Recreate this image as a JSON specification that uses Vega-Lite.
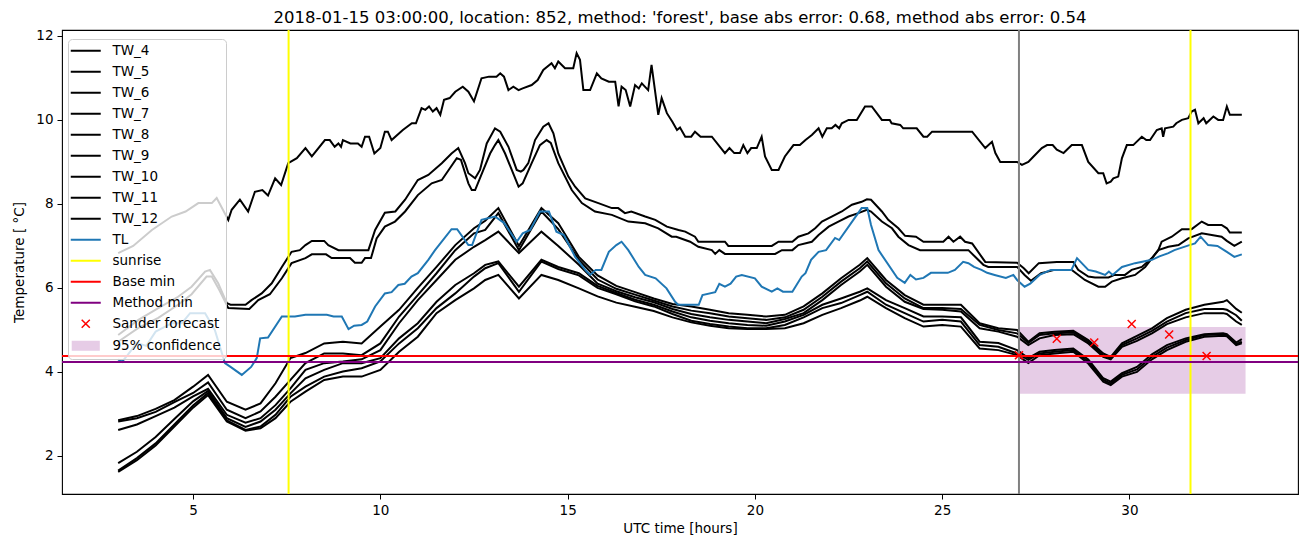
{
"$schema": "https://vega.github.io/schema/vega-lite/v6.json",
"width": 1236, "height": 464,
"autosize": {"type": "none"},
"padding": {"left": 62, "top": 30, "right": 12, "bottom": 53},
"background": "white",
"title": {"text": "2018-01-15 03:00:00, location: 852, method: 'forest', base abs error: 0.68, method abs error: 0.54", "font": "DejaVu Sans", "fontSize": 16.5, "fontWeight": "normal", "color": "black", "offset": 2, "anchor": "middle"},
"config": {
 "view": {"stroke": "black", "strokeWidth": 1.1},
 "axis": {"domain": false, "grid": false, "ticks": true, "tickColor": "black", "tickSize": 5, "tickWidth": 1, "labelFont": "DejaVu Sans", "labelFontSize": 13.5, "labelColor": "black", "labelPadding": 4, "titleFont": "DejaVu Sans", "titleFontSize": 13.5, "titleFontWeight": "normal", "titleColor": "black"},
 "axisX": {"titlePadding": 5},
 "axisY": {"titlePadding": 9}
},
"datasets": {
"tw": [
{"s":"TW_4","h":3.0,"t":6.83},{"s":"TW_4","h":3.4,"t":7.0},{"s":"TW_4","h":3.9,"t":7.38},{"s":"TW_4","h":4.43,"t":7.7},{"s":"TW_4","h":4.8,"t":7.82},{"s":"TW_4","h":5.14,"t":8.02},{"s":"TW_4","h":5.5,"t":8.02},{"s":"TW_4","h":5.63,"t":8.14},{"s":"TW_4","h":5.94,"t":7.62},{"s":"TW_4","h":6.03,"t":7.86},{"s":"TW_4","h":6.25,"t":8.1},{"s":"TW_4","h":6.47,"t":7.82},{"s":"TW_4","h":6.65,"t":8.29},{"s":"TW_4","h":6.85,"t":8.33},{"s":"TW_4","h":7.0,"t":8.2},{"s":"TW_4","h":7.19,"t":8.61},{"s":"TW_4","h":7.35,"t":8.45},{"s":"TW_4","h":7.54,"t":8.97},{"s":"TW_4","h":7.77,"t":9.09},{"s":"TW_4","h":8.0,"t":9.33},{"s":"TW_4","h":8.17,"t":9.13},{"s":"TW_4","h":8.52,"t":9.52},{"s":"TW_4","h":8.65,"t":9.52},{"s":"TW_4","h":8.78,"t":9.36},{"s":"TW_4","h":8.88,"t":9.44},{"s":"TW_4","h":8.95,"t":9.36},{"s":"TW_4","h":9.0,"t":9.52},{"s":"TW_4","h":9.2,"t":9.44},{"s":"TW_4","h":9.4,"t":9.44},{"s":"TW_4","h":9.5,"t":9.36},{"s":"TW_4","h":9.59,"t":9.6},{"s":"TW_4","h":9.7,"t":9.6},{"s":"TW_4","h":9.84,"t":9.2},{"s":"TW_4","h":10.0,"t":9.33},{"s":"TW_4","h":10.12,"t":9.72},{"s":"TW_4","h":10.2,"t":9.72},{"s":"TW_4","h":10.3,"t":9.52},{"s":"TW_4","h":10.6,"t":9.76},{"s":"TW_4","h":10.84,"t":9.92},{"s":"TW_4","h":10.95,"t":9.92},{"s":"TW_4","h":11.1,"t":10.28},{"s":"TW_4","h":11.2,"t":10.24},{"s":"TW_4","h":11.3,"t":10.32},{"s":"TW_4","h":11.4,"t":10.2},{"s":"TW_4","h":11.5,"t":10.28},{"s":"TW_4","h":11.6,"t":10.12},{"s":"TW_4","h":11.7,"t":10.48},{"s":"TW_4","h":11.85,"t":10.52},{"s":"TW_4","h":12.0,"t":10.67},{"s":"TW_4","h":12.2,"t":10.79},{"s":"TW_4","h":12.35,"t":10.67},{"s":"TW_4","h":12.5,"t":10.44},{"s":"TW_4","h":12.7,"t":10.99},{"s":"TW_4","h":12.9,"t":11.03},{"s":"TW_4","h":13.1,"t":11.03},{"s":"TW_4","h":13.2,"t":11.11},{"s":"TW_4","h":13.3,"t":11.03},{"s":"TW_4","h":13.42,"t":10.71},{"s":"TW_4","h":13.55,"t":10.79},{"s":"TW_4","h":13.69,"t":10.71},{"s":"TW_4","h":13.8,"t":10.75},{"s":"TW_4","h":14.04,"t":10.83},{"s":"TW_4","h":14.2,"t":10.95},{"s":"TW_4","h":14.35,"t":11.19},{"s":"TW_4","h":14.57,"t":11.35},{"s":"TW_4","h":14.66,"t":11.23},{"s":"TW_4","h":14.75,"t":11.39},{"s":"TW_4","h":14.93,"t":11.23},{"s":"TW_4","h":15.15,"t":11.23},{"s":"TW_4","h":15.24,"t":11.59},{"s":"TW_4","h":15.33,"t":11.43},{"s":"TW_4","h":15.42,"t":10.71},{"s":"TW_4","h":15.6,"t":10.71},{"s":"TW_4","h":15.78,"t":11.11},{"s":"TW_4","h":15.9,"t":10.99},{"s":"TW_4","h":16.1,"t":10.91},{"s":"TW_4","h":16.27,"t":10.91},{"s":"TW_4","h":16.36,"t":10.32},{"s":"TW_4","h":16.44,"t":10.79},{"s":"TW_4","h":16.55,"t":10.71},{"s":"TW_4","h":16.67,"t":10.32},{"s":"TW_4","h":16.8,"t":10.83},{"s":"TW_4","h":16.9,"t":10.75},{"s":"TW_4","h":16.98,"t":10.87},{"s":"TW_4","h":17.15,"t":10.71},{"s":"TW_4","h":17.24,"t":11.31},{"s":"TW_4","h":17.42,"t":10.12},{"s":"TW_4","h":17.51,"t":10.52},{"s":"TW_4","h":17.65,"t":10.16},{"s":"TW_4","h":17.8,"t":9.95},{"s":"TW_4","h":17.92,"t":9.76},{"s":"TW_4","h":18.0,"t":9.82},{"s":"TW_4","h":18.14,"t":9.6},{"s":"TW_4","h":18.3,"t":9.6},{"s":"TW_4","h":18.4,"t":9.72},{"s":"TW_4","h":18.55,"t":9.6},{"s":"TW_4","h":18.85,"t":9.6},{"s":"TW_4","h":19.2,"t":9.21},{"s":"TW_4","h":19.32,"t":9.33},{"s":"TW_4","h":19.45,"t":9.21},{"s":"TW_4","h":19.6,"t":9.21},{"s":"TW_4","h":19.69,"t":9.4},{"s":"TW_4","h":19.8,"t":9.21},{"s":"TW_4","h":19.9,"t":9.33},{"s":"TW_4","h":20.05,"t":9.33},{"s":"TW_4","h":20.18,"t":9.6},{"s":"TW_4","h":20.27,"t":9.13},{"s":"TW_4","h":20.45,"t":8.81},{"s":"TW_4","h":20.63,"t":8.81},{"s":"TW_4","h":20.8,"t":9.13},{"s":"TW_4","h":21.03,"t":9.4},{"s":"TW_4","h":21.2,"t":9.4},{"s":"TW_4","h":21.35,"t":9.52},{"s":"TW_4","h":21.52,"t":9.64},{"s":"TW_4","h":21.7,"t":9.8},{"s":"TW_4","h":21.8,"t":9.6},{"s":"TW_4","h":21.92,"t":9.8},{"s":"TW_4","h":22.05,"t":9.8},{"s":"TW_4","h":22.15,"t":9.88},{"s":"TW_4","h":22.25,"t":9.8},{"s":"TW_4","h":22.32,"t":9.92},{"s":"TW_4","h":22.5,"t":10.0},{"s":"TW_4","h":22.72,"t":10.0},{"s":"TW_4","h":22.94,"t":10.32},{"s":"TW_4","h":23.12,"t":10.32},{"s":"TW_4","h":23.39,"t":10.0},{"s":"TW_4","h":23.6,"t":10.0},{"s":"TW_4","h":23.65,"t":9.92},{"s":"TW_4","h":23.88,"t":9.88},{"s":"TW_4","h":23.96,"t":9.8},{"s":"TW_4","h":24.32,"t":9.8},{"s":"TW_4","h":24.5,"t":9.6},{"s":"TW_4","h":24.6,"t":9.6},{"s":"TW_4","h":24.73,"t":9.72},{"s":"TW_4","h":25.8,"t":9.72},{"s":"TW_4","h":26.15,"t":9.33},{"s":"TW_4","h":26.33,"t":9.48},{"s":"TW_4","h":26.42,"t":9.21},{"s":"TW_4","h":26.55,"t":9.0},{"s":"TW_4","h":27.0,"t":9.0},{"s":"TW_4","h":27.13,"t":8.93},{"s":"TW_4","h":27.3,"t":9.0},{"s":"TW_4","h":27.44,"t":9.13},{"s":"TW_4","h":27.66,"t":9.33},{"s":"TW_4","h":27.8,"t":9.4},{"s":"TW_4","h":27.95,"t":9.4},{"s":"TW_4","h":28.06,"t":9.29},{"s":"TW_4","h":28.24,"t":9.21},{"s":"TW_4","h":28.46,"t":9.4},{"s":"TW_4","h":28.73,"t":9.4},{"s":"TW_4","h":28.9,"t":9.0},{"s":"TW_4","h":29.17,"t":8.73},{"s":"TW_4","h":29.3,"t":8.73},{"s":"TW_4","h":29.39,"t":8.49},{"s":"TW_4","h":29.5,"t":8.53},{"s":"TW_4","h":29.57,"t":8.61},{"s":"TW_4","h":29.7,"t":8.65},{"s":"TW_4","h":29.8,"t":9.09},{"s":"TW_4","h":29.93,"t":9.4},{"s":"TW_4","h":30.1,"t":9.4},{"s":"TW_4","h":30.33,"t":9.6},{"s":"TW_4","h":30.45,"t":9.52},{"s":"TW_4","h":30.55,"t":9.52},{"s":"TW_4","h":30.73,"t":9.76},{"s":"TW_4","h":30.86,"t":9.8},{"s":"TW_4","h":30.9,"t":9.6},{"s":"TW_4","h":30.95,"t":9.8},{"s":"TW_4","h":31.17,"t":9.84},{"s":"TW_4","h":31.25,"t":9.92},{"s":"TW_4","h":31.4,"t":10.0},{"s":"TW_4","h":31.57,"t":10.04},{"s":"TW_4","h":31.66,"t":10.2},{"s":"TW_4","h":31.75,"t":10.24},{"s":"TW_4","h":31.84,"t":9.92},{"s":"TW_4","h":31.98,"t":10.04},{"s":"TW_4","h":32.05,"t":9.92},{"s":"TW_4","h":32.24,"t":10.08},{"s":"TW_4","h":32.37,"t":10.0},{"s":"TW_4","h":32.5,"t":10.0},{"s":"TW_4","h":32.6,"t":10.32},{"s":"TW_4","h":32.68,"t":10.12},{"s":"TW_4","h":33.0,"t":10.12},
{"s":"TW_5","h":3.0,"t":4.88},{"s":"TW_5","h":3.54,"t":5.24},{"s":"TW_5","h":4.07,"t":5.52},{"s":"TW_5","h":4.6,"t":5.79},{"s":"TW_5","h":4.96,"t":6.03},{"s":"TW_5","h":5.32,"t":6.39},{"s":"TW_5","h":5.45,"t":6.43},{"s":"TW_5","h":5.67,"t":6.11},{"s":"TW_5","h":5.9,"t":5.64},{"s":"TW_5","h":6.0,"t":5.6},{"s":"TW_5","h":6.4,"t":5.6},{"s":"TW_5","h":6.56,"t":5.71},{"s":"TW_5","h":6.83,"t":5.87},{"s":"TW_5","h":7.1,"t":6.11},{"s":"TW_5","h":7.37,"t":6.5},{"s":"TW_5","h":7.63,"t":6.86},{"s":"TW_5","h":7.85,"t":6.9},{"s":"TW_5","h":8.0,"t":7.02},{"s":"TW_5","h":8.17,"t":7.12},{"s":"TW_5","h":8.5,"t":7.12},{"s":"TW_5","h":8.61,"t":7.02},{"s":"TW_5","h":8.88,"t":6.9},{"s":"TW_5","h":9.68,"t":6.9},{"s":"TW_5","h":9.86,"t":7.38},{"s":"TW_5","h":10.12,"t":7.79},{"s":"TW_5","h":10.4,"t":7.82},{"s":"TW_5","h":10.66,"t":8.1},{"s":"TW_5","h":11.0,"t":8.57},{"s":"TW_5","h":11.28,"t":8.69},{"s":"TW_5","h":11.64,"t":8.97},{"s":"TW_5","h":11.9,"t":9.2},{"s":"TW_5","h":12.08,"t":9.33},{"s":"TW_5","h":12.26,"t":8.97},{"s":"TW_5","h":12.35,"t":8.73},{"s":"TW_5","h":12.53,"t":8.61},{"s":"TW_5","h":12.66,"t":8.81},{"s":"TW_5","h":12.84,"t":9.44},{"s":"TW_5","h":13.06,"t":9.8},{"s":"TW_5","h":13.2,"t":9.72},{"s":"TW_5","h":13.42,"t":9.36},{"s":"TW_5","h":13.64,"t":8.81},{"s":"TW_5","h":13.75,"t":8.77},{"s":"TW_5","h":13.82,"t":8.81},{"s":"TW_5","h":13.95,"t":8.97},{"s":"TW_5","h":14.13,"t":9.52},{"s":"TW_5","h":14.35,"t":9.84},{"s":"TW_5","h":14.49,"t":9.92},{"s":"TW_5","h":14.62,"t":9.68},{"s":"TW_5","h":14.75,"t":9.2},{"s":"TW_5","h":15.02,"t":8.65},{"s":"TW_5","h":15.2,"t":8.41},{"s":"TW_5","h":15.47,"t":8.13},{"s":"TW_5","h":15.82,"t":8.02},{"s":"TW_5","h":16.18,"t":7.9},{"s":"TW_5","h":16.35,"t":7.9},{"s":"TW_5","h":16.53,"t":7.78},{"s":"TW_5","h":16.7,"t":7.82},{"s":"TW_5","h":17.07,"t":7.7},{"s":"TW_5","h":17.34,"t":7.62},{"s":"TW_5","h":17.65,"t":7.46},{"s":"TW_5","h":17.96,"t":7.38},{"s":"TW_5","h":18.14,"t":7.34},{"s":"TW_5","h":18.4,"t":7.22},{"s":"TW_5","h":18.49,"t":7.1},{"s":"TW_5","h":19.2,"t":7.1},{"s":"TW_5","h":19.29,"t":7.0},{"s":"TW_5","h":20.45,"t":7.0},{"s":"TW_5","h":20.63,"t":7.1},{"s":"TW_5","h":21.0,"t":7.1},{"s":"TW_5","h":21.16,"t":7.22},{"s":"TW_5","h":21.43,"t":7.3},{"s":"TW_5","h":21.61,"t":7.42},{"s":"TW_5","h":21.79,"t":7.58},{"s":"TW_5","h":22.05,"t":7.7},{"s":"TW_5","h":22.32,"t":7.82},{"s":"TW_5","h":22.59,"t":7.98},{"s":"TW_5","h":22.85,"t":8.05},{"s":"TW_5","h":22.99,"t":8.11},{"s":"TW_5","h":23.1,"t":8.1},{"s":"TW_5","h":23.39,"t":7.82},{"s":"TW_5","h":23.56,"t":7.62},{"s":"TW_5","h":23.83,"t":7.42},{"s":"TW_5","h":24.01,"t":7.24},{"s":"TW_5","h":24.3,"t":7.22},{"s":"TW_5","h":24.5,"t":7.1},{"s":"TW_5","h":25.03,"t":7.1},{"s":"TW_5","h":25.17,"t":7.22},{"s":"TW_5","h":25.3,"t":7.1},{"s":"TW_5","h":25.48,"t":7.22},{"s":"TW_5","h":25.61,"t":7.1},{"s":"TW_5","h":25.8,"t":7.06},{"s":"TW_5","h":26.15,"t":6.62},{"s":"TW_5","h":27.0,"t":6.6},{"s":"TW_5","h":27.18,"t":6.47},{"s":"TW_5","h":27.31,"t":6.35},{"s":"TW_5","h":27.58,"t":6.59},{"s":"TW_5","h":28.06,"t":6.62},{"s":"TW_5","h":28.5,"t":6.62},{"s":"TW_5","h":28.63,"t":6.43},{"s":"TW_5","h":28.9,"t":6.27},{"s":"TW_5","h":29.08,"t":6.25},{"s":"TW_5","h":29.44,"t":6.25},{"s":"TW_5","h":29.6,"t":6.31},{"s":"TW_5","h":29.88,"t":6.31},{"s":"TW_5","h":30.06,"t":6.43},{"s":"TW_5","h":30.33,"t":6.5},{"s":"TW_5","h":30.6,"t":6.71},{"s":"TW_5","h":30.77,"t":6.9},{"s":"TW_5","h":30.86,"t":7.1},{"s":"TW_5","h":31.13,"t":7.22},{"s":"TW_5","h":31.4,"t":7.4},{"s":"TW_5","h":31.66,"t":7.4},{"s":"TW_5","h":31.93,"t":7.58},{"s":"TW_5","h":32.1,"t":7.5},{"s":"TW_5","h":32.46,"t":7.5},{"s":"TW_5","h":32.6,"t":7.42},{"s":"TW_5","h":32.68,"t":7.32},{"s":"TW_5","h":33.0,"t":7.32},
{"s":"TW_6","h":3.0,"t":4.72},{"s":"TW_6","h":3.54,"t":5.05},{"s":"TW_6","h":4.07,"t":5.29},{"s":"TW_6","h":4.6,"t":5.6},{"s":"TW_6","h":4.96,"t":5.85},{"s":"TW_6","h":5.36,"t":6.27},{"s":"TW_6","h":5.5,"t":6.27},{"s":"TW_6","h":5.7,"t":5.95},{"s":"TW_6","h":5.94,"t":5.52},{"s":"TW_6","h":6.5,"t":5.5},{"s":"TW_6","h":6.74,"t":5.71},{"s":"TW_6","h":7.05,"t":5.85},{"s":"TW_6","h":7.37,"t":6.23},{"s":"TW_6","h":7.63,"t":6.59},{"s":"TW_6","h":8.0,"t":6.71},{"s":"TW_6","h":8.17,"t":6.8},{"s":"TW_6","h":8.55,"t":6.8},{"s":"TW_6","h":8.7,"t":6.71},{"s":"TW_6","h":9.19,"t":6.71},{"s":"TW_6","h":9.32,"t":6.6},{"s":"TW_6","h":9.5,"t":6.6},{"s":"TW_6","h":9.59,"t":6.71},{"s":"TW_6","h":9.75,"t":6.71},{"s":"TW_6","h":9.9,"t":7.18},{"s":"TW_6","h":10.12,"t":7.46},{"s":"TW_6","h":10.39,"t":7.58},{"s":"TW_6","h":10.66,"t":7.82},{"s":"TW_6","h":11.0,"t":8.21},{"s":"TW_6","h":11.37,"t":8.49},{"s":"TW_6","h":11.64,"t":8.57},{"s":"TW_6","h":12.04,"t":9.09},{"s":"TW_6","h":12.15,"t":9.05},{"s":"TW_6","h":12.35,"t":8.49},{"s":"TW_6","h":12.44,"t":8.33},{"s":"TW_6","h":12.53,"t":8.33},{"s":"TW_6","h":12.75,"t":8.81},{"s":"TW_6","h":12.93,"t":9.2},{"s":"TW_6","h":13.06,"t":9.4},{"s":"TW_6","h":13.15,"t":9.52},{"s":"TW_6","h":13.33,"t":9.2},{"s":"TW_6","h":13.69,"t":8.41},{"s":"TW_6","h":13.8,"t":8.49},{"s":"TW_6","h":14.04,"t":8.97},{"s":"TW_6","h":14.26,"t":9.4},{"s":"TW_6","h":14.44,"t":9.52},{"s":"TW_6","h":14.55,"t":9.45},{"s":"TW_6","h":14.75,"t":8.97},{"s":"TW_6","h":15.11,"t":8.33},{"s":"TW_6","h":15.38,"t":8.02},{"s":"TW_6","h":15.73,"t":7.82},{"s":"TW_6","h":16.18,"t":7.74},{"s":"TW_6","h":16.62,"t":7.58},{"s":"TW_6","h":17.07,"t":7.54},{"s":"TW_6","h":17.42,"t":7.42},{"s":"TW_6","h":17.78,"t":7.22},{"s":"TW_6","h":17.9,"t":7.22},{"s":"TW_6","h":18.27,"t":7.1},{"s":"TW_6","h":18.49,"t":6.98},{"s":"TW_6","h":18.85,"t":6.9},{"s":"TW_6","h":18.94,"t":6.81},{"s":"TW_6","h":19.05,"t":6.9},{"s":"TW_6","h":19.2,"t":6.81},{"s":"TW_6","h":20.54,"t":6.81},{"s":"TW_6","h":20.72,"t":6.9},{"s":"TW_6","h":21.0,"t":6.9},{"s":"TW_6","h":21.16,"t":7.02},{"s":"TW_6","h":21.52,"t":7.1},{"s":"TW_6","h":21.7,"t":7.26},{"s":"TW_6","h":21.97,"t":7.46},{"s":"TW_6","h":22.23,"t":7.58},{"s":"TW_6","h":22.5,"t":7.7},{"s":"TW_6","h":22.76,"t":7.78},{"s":"TW_6","h":22.99,"t":7.86},{"s":"TW_6","h":23.1,"t":7.82},{"s":"TW_6","h":23.39,"t":7.58},{"s":"TW_6","h":23.66,"t":7.42},{"s":"TW_6","h":23.83,"t":7.22},{"s":"TW_6","h":24.1,"t":7.02},{"s":"TW_6","h":24.41,"t":6.9},{"s":"TW_6","h":25.7,"t":6.9},{"s":"TW_6","h":26.1,"t":6.55},{"s":"TW_6","h":26.23,"t":6.5},{"s":"TW_6","h":27.0,"t":6.5},{"s":"TW_6","h":27.2,"t":6.31},{"s":"TW_6","h":27.37,"t":6.17},{"s":"TW_6","h":27.64,"t":6.35},{"s":"TW_6","h":28.0,"t":6.43},{"s":"TW_6","h":28.46,"t":6.43},{"s":"TW_6","h":28.81,"t":6.19},{"s":"TW_6","h":29.17,"t":6.03},{"s":"TW_6","h":29.35,"t":6.03},{"s":"TW_6","h":29.53,"t":6.15},{"s":"TW_6","h":29.8,"t":6.23},{"s":"TW_6","h":30.15,"t":6.31},{"s":"TW_6","h":30.42,"t":6.5},{"s":"TW_6","h":30.77,"t":6.9},{"s":"TW_6","h":31.04,"t":6.98},{"s":"TW_6","h":31.31,"t":7.02},{"s":"TW_6","h":31.57,"t":7.18},{"s":"TW_6","h":31.93,"t":7.3},{"s":"TW_6","h":32.46,"t":7.22},{"s":"TW_6","h":32.6,"t":7.12},{"s":"TW_6","h":32.8,"t":7.0},{"s":"TW_6","h":33.0,"t":7.1},
{"s":"TW_7","h":3,"t":2.85},{"s":"TW_7","h":3.5,"t":2.95},{"s":"TW_7","h":4,"t":3.12},{"s":"TW_7","h":4.5,"t":3.33},{"s":"TW_7","h":5,"t":3.65},{"s":"TW_7","h":5.4,"t":3.93},{"s":"TW_7","h":5.9,"t":3.29},{"s":"TW_7","h":6.4,"t":3.1},{"s":"TW_7","h":6.8,"t":3.25},{"s":"TW_7","h":7.2,"t":3.73},{"s":"TW_7","h":7.6,"t":4.33},{"s":"TW_7","h":8,"t":4.45},{"s":"TW_7","h":8.5,"t":4.68},{"s":"TW_7","h":9,"t":4.72},{"s":"TW_7","h":9.5,"t":4.68},{"s":"TW_7","h":10,"t":5.08},{"s":"TW_7","h":10.5,"t":5.48},{"s":"TW_7","h":11,"t":6.0},{"s":"TW_7","h":11.5,"t":6.5},{"s":"TW_7","h":12,"t":7.02},{"s":"TW_7","h":12.5,"t":7.42},{"s":"TW_7","h":12.8,"t":7.6},{"s":"TW_7","h":13.15,"t":7.9},{"s":"TW_7","h":13.7,"t":7.0},{"s":"TW_7","h":14.3,"t":7.9},{"s":"TW_7","h":14.75,"t":7.54},{"s":"TW_7","h":15.3,"t":6.74},{"s":"TW_7","h":15.8,"t":6.3},{"s":"TW_7","h":16.3,"t":6.05},{"s":"TW_7","h":16.8,"t":5.9},{"s":"TW_7","h":17.3,"t":5.75},{"s":"TW_7","h":17.8,"t":5.62},{"s":"TW_7","h":18.3,"t":5.56},{"s":"TW_7","h":18.8,"t":5.48},{"s":"TW_7","h":19.3,"t":5.4},{"s":"TW_7","h":19.8,"t":5.36},{"s":"TW_7","h":20.3,"t":5.32},{"s":"TW_7","h":20.8,"t":5.36},{"s":"TW_7","h":21.3,"t":5.56},{"s":"TW_7","h":21.8,"t":5.87},{"s":"TW_7","h":22.3,"t":6.23},{"s":"TW_7","h":22.8,"t":6.55},{"s":"TW_7","h":23,"t":6.71},{"s":"TW_7","h":23.5,"t":6.19},{"s":"TW_7","h":24,"t":5.83},{"s":"TW_7","h":24.5,"t":5.6},{"s":"TW_7","h":25,"t":5.6},{"s":"TW_7","h":25.5,"t":5.6},{"s":"TW_7","h":26,"t":5.16},{"s":"TW_7","h":26.5,"t":5.04},{"s":"TW_7","h":27,"t":5.0},{"s":"TW_7","h":27.3,"t":4.72},{"s":"TW_7","h":27.6,"t":4.92},{"s":"TW_7","h":28,"t":4.96},{"s":"TW_7","h":28.5,"t":4.98},{"s":"TW_7","h":28.9,"t":4.76},{"s":"TW_7","h":29.3,"t":4.44},{"s":"TW_7","h":29.5,"t":4.36},{"s":"TW_7","h":29.8,"t":4.68},{"s":"TW_7","h":30.2,"t":4.86},{"s":"TW_7","h":30.6,"t":5.04},{"s":"TW_7","h":31,"t":5.28},{"s":"TW_7","h":31.5,"t":5.48},{"s":"TW_7","h":32,"t":5.6},{"s":"TW_7","h":32.5,"t":5.67},{"s":"TW_7","h":32.6,"t":5.71},{"s":"TW_7","h":32.85,"t":5.5},{"s":"TW_7","h":33,"t":5.41},
{"s":"TW_8","h":3,"t":2.82},{"s":"TW_8","h":3.5,"t":2.9},{"s":"TW_8","h":4,"t":3.05},{"s":"TW_8","h":4.5,"t":3.28},{"s":"TW_8","h":5,"t":3.5},{"s":"TW_8","h":5.4,"t":3.75},{"s":"TW_8","h":5.9,"t":3.1},{"s":"TW_8","h":6.4,"t":2.9},{"s":"TW_8","h":6.8,"t":3.06},{"s":"TW_8","h":7.2,"t":3.41},{"s":"TW_8","h":7.6,"t":3.81},{"s":"TW_8","h":8,"t":4.21},{"s":"TW_8","h":8.5,"t":4.44},{"s":"TW_8","h":9,"t":4.44},{"s":"TW_8","h":9.5,"t":4.4},{"s":"TW_8","h":10,"t":4.68},{"s":"TW_8","h":10.5,"t":5.32},{"s":"TW_8","h":11,"t":5.83},{"s":"TW_8","h":11.5,"t":6.35},{"s":"TW_8","h":12,"t":6.9},{"s":"TW_8","h":12.5,"t":7.3},{"s":"TW_8","h":12.8,"t":7.38},{"s":"TW_8","h":13.15,"t":7.78},{"s":"TW_8","h":13.7,"t":6.9},{"s":"TW_8","h":14.3,"t":7.82},{"s":"TW_8","h":14.75,"t":7.4},{"s":"TW_8","h":15.3,"t":6.67},{"s":"TW_8","h":15.8,"t":6.2},{"s":"TW_8","h":16.3,"t":5.98},{"s":"TW_8","h":16.8,"t":5.84},{"s":"TW_8","h":17.3,"t":5.7},{"s":"TW_8","h":17.8,"t":5.56},{"s":"TW_8","h":18.3,"t":5.46},{"s":"TW_8","h":18.8,"t":5.4},{"s":"TW_8","h":19.3,"t":5.32},{"s":"TW_8","h":19.8,"t":5.28},{"s":"TW_8","h":20.3,"t":5.24},{"s":"TW_8","h":20.8,"t":5.3},{"s":"TW_8","h":21.3,"t":5.48},{"s":"TW_8","h":21.8,"t":5.79},{"s":"TW_8","h":22.3,"t":6.15},{"s":"TW_8","h":22.8,"t":6.47},{"s":"TW_8","h":23,"t":6.63},{"s":"TW_8","h":23.5,"t":6.11},{"s":"TW_8","h":24,"t":5.75},{"s":"TW_8","h":24.5,"t":5.52},{"s":"TW_8","h":25,"t":5.52},{"s":"TW_8","h":25.5,"t":5.5},{"s":"TW_8","h":26,"t":5.12},{"s":"TW_8","h":26.5,"t":5.0},{"s":"TW_8","h":27,"t":4.92},{"s":"TW_8","h":27.3,"t":4.69},{"s":"TW_8","h":27.6,"t":4.88},{"s":"TW_8","h":28,"t":4.92},{"s":"TW_8","h":28.5,"t":4.94},{"s":"TW_8","h":28.9,"t":4.72},{"s":"TW_8","h":29.3,"t":4.4},{"s":"TW_8","h":29.5,"t":4.33},{"s":"TW_8","h":29.8,"t":4.64},{"s":"TW_8","h":30.2,"t":4.8},{"s":"TW_8","h":30.6,"t":4.98},{"s":"TW_8","h":31,"t":5.2},{"s":"TW_8","h":31.5,"t":5.4},{"s":"TW_8","h":32,"t":5.5},{"s":"TW_8","h":32.5,"t":5.5},{"s":"TW_8","h":32.6,"t":5.48},{"s":"TW_8","h":32.85,"t":5.35},{"s":"TW_8","h":33,"t":5.22},
{"s":"TW_9","h":3,"t":2.62},{"s":"TW_9","h":3.5,"t":2.75},{"s":"TW_9","h":4,"t":2.95},{"s":"TW_9","h":4.5,"t":3.15},{"s":"TW_9","h":5,"t":3.42},{"s":"TW_9","h":5.4,"t":3.6},{"s":"TW_9","h":5.9,"t":2.98},{"s":"TW_9","h":6.4,"t":2.79},{"s":"TW_9","h":6.8,"t":2.9},{"s":"TW_9","h":7.2,"t":3.21},{"s":"TW_9","h":7.6,"t":3.61},{"s":"TW_9","h":8,"t":4.05},{"s":"TW_9","h":8.5,"t":4.21},{"s":"TW_9","h":9,"t":4.25},{"s":"TW_9","h":9.5,"t":4.3},{"s":"TW_9","h":10,"t":4.52},{"s":"TW_9","h":10.5,"t":5.16},{"s":"TW_9","h":11,"t":5.71},{"s":"TW_9","h":11.5,"t":6.19},{"s":"TW_9","h":12,"t":6.67},{"s":"TW_9","h":12.5,"t":6.98},{"s":"TW_9","h":12.8,"t":7.14},{"s":"TW_9","h":13.15,"t":7.34},{"s":"TW_9","h":13.7,"t":6.83},{"s":"TW_9","h":14.3,"t":7.34},{"s":"TW_9","h":14.75,"t":7.0},{"s":"TW_9","h":15.3,"t":6.55},{"s":"TW_9","h":15.8,"t":6.1},{"s":"TW_9","h":16.3,"t":5.92},{"s":"TW_9","h":16.8,"t":5.78},{"s":"TW_9","h":17.3,"t":5.66},{"s":"TW_9","h":17.8,"t":5.5},{"s":"TW_9","h":18.3,"t":5.38},{"s":"TW_9","h":18.8,"t":5.3},{"s":"TW_9","h":19.3,"t":5.24},{"s":"TW_9","h":19.8,"t":5.2},{"s":"TW_9","h":20.3,"t":5.16},{"s":"TW_9","h":20.8,"t":5.26},{"s":"TW_9","h":21.3,"t":5.4},{"s":"TW_9","h":21.8,"t":5.71},{"s":"TW_9","h":22.3,"t":6.07},{"s":"TW_9","h":22.8,"t":6.39},{"s":"TW_9","h":23,"t":6.55},{"s":"TW_9","h":23.5,"t":6.03},{"s":"TW_9","h":24,"t":5.67},{"s":"TW_9","h":24.5,"t":5.5},{"s":"TW_9","h":25,"t":5.48},{"s":"TW_9","h":25.5,"t":5.44},{"s":"TW_9","h":26,"t":5.04},{"s":"TW_9","h":26.5,"t":4.96},{"s":"TW_9","h":27,"t":4.84},{"s":"TW_9","h":27.3,"t":4.64},{"s":"TW_9","h":27.6,"t":4.8},{"s":"TW_9","h":28,"t":4.88},{"s":"TW_9","h":28.5,"t":4.9},{"s":"TW_9","h":28.9,"t":4.68},{"s":"TW_9","h":29.3,"t":4.36},{"s":"TW_9","h":29.5,"t":4.3},{"s":"TW_9","h":29.8,"t":4.6},{"s":"TW_9","h":30.2,"t":4.74},{"s":"TW_9","h":30.6,"t":4.92},{"s":"TW_9","h":31,"t":5.14},{"s":"TW_9","h":31.5,"t":5.3},{"s":"TW_9","h":32,"t":5.4},{"s":"TW_9","h":32.5,"t":5.4},{"s":"TW_9","h":32.6,"t":5.38},{"s":"TW_9","h":32.85,"t":5.2},{"s":"TW_9","h":33,"t":5.12},
{"s":"TW_10","h":3,"t":1.83},{"s":"TW_10","h":3.5,"t":2.1},{"s":"TW_10","h":4,"t":2.45},{"s":"TW_10","h":4.5,"t":2.88},{"s":"TW_10","h":5,"t":3.3},{"s":"TW_10","h":5.4,"t":3.55},{"s":"TW_10","h":5.9,"t":2.9},{"s":"TW_10","h":6.4,"t":2.69},{"s":"TW_10","h":6.8,"t":2.82},{"s":"TW_10","h":7.2,"t":3.1},{"s":"TW_10","h":7.6,"t":3.49},{"s":"TW_10","h":8,"t":3.85},{"s":"TW_10","h":8.5,"t":4.05},{"s":"TW_10","h":9,"t":4.21},{"s":"TW_10","h":9.5,"t":4.21},{"s":"TW_10","h":10,"t":4.33},{"s":"TW_10","h":10.5,"t":4.8},{"s":"TW_10","h":11,"t":5.16},{"s":"TW_10","h":11.5,"t":5.67},{"s":"TW_10","h":12,"t":6.07},{"s":"TW_10","h":12.5,"t":6.35},{"s":"TW_10","h":12.8,"t":6.55},{"s":"TW_10","h":13.15,"t":6.63},{"s":"TW_10","h":13.7,"t":6.03},{"s":"TW_10","h":14.3,"t":6.67},{"s":"TW_10","h":14.75,"t":6.5},{"s":"TW_10","h":15.3,"t":6.35},{"s":"TW_10","h":15.8,"t":6.05},{"s":"TW_10","h":16.3,"t":5.88},{"s":"TW_10","h":16.8,"t":5.72},{"s":"TW_10","h":17.3,"t":5.6},{"s":"TW_10","h":17.8,"t":5.44},{"s":"TW_10","h":18.3,"t":5.3},{"s":"TW_10","h":18.8,"t":5.22},{"s":"TW_10","h":19.3,"t":5.16},{"s":"TW_10","h":19.8,"t":5.12},{"s":"TW_10","h":20.3,"t":5.1},{"s":"TW_10","h":20.8,"t":5.2},{"s":"TW_10","h":21.3,"t":5.36},{"s":"TW_10","h":21.8,"t":5.6},{"s":"TW_10","h":22.3,"t":5.75},{"s":"TW_10","h":22.8,"t":5.91},{"s":"TW_10","h":23,"t":5.99},{"s":"TW_10","h":23.5,"t":5.71},{"s":"TW_10","h":24,"t":5.52},{"s":"TW_10","h":24.5,"t":5.32},{"s":"TW_10","h":25,"t":5.32},{"s":"TW_10","h":25.5,"t":5.3},{"s":"TW_10","h":26,"t":4.72},{"s":"TW_10","h":26.5,"t":4.69},{"s":"TW_10","h":27,"t":4.52},{"s":"TW_10","h":27.3,"t":4.33},{"s":"TW_10","h":27.6,"t":4.48},{"s":"TW_10","h":28,"t":4.52},{"s":"TW_10","h":28.5,"t":4.56},{"s":"TW_10","h":28.9,"t":4.3},{"s":"TW_10","h":29.3,"t":3.85},{"s":"TW_10","h":29.5,"t":3.77},{"s":"TW_10","h":29.8,"t":3.97},{"s":"TW_10","h":30.2,"t":4.12},{"s":"TW_10","h":30.6,"t":4.42},{"s":"TW_10","h":31,"t":4.64},{"s":"TW_10","h":31.5,"t":4.8},{"s":"TW_10","h":32,"t":4.9},{"s":"TW_10","h":32.5,"t":4.92},{"s":"TW_10","h":32.6,"t":4.9},{"s":"TW_10","h":32.85,"t":4.7},{"s":"TW_10","h":33,"t":4.78},
{"s":"TW_11","h":3,"t":1.65},{"s":"TW_11","h":3.5,"t":1.95},{"s":"TW_11","h":4,"t":2.3},{"s":"TW_11","h":4.5,"t":2.75},{"s":"TW_11","h":5,"t":3.2},{"s":"TW_11","h":5.4,"t":3.5},{"s":"TW_11","h":5.9,"t":2.85},{"s":"TW_11","h":6.4,"t":2.62},{"s":"TW_11","h":6.8,"t":2.7},{"s":"TW_11","h":7.2,"t":2.98},{"s":"TW_11","h":7.6,"t":3.41},{"s":"TW_11","h":8,"t":3.65},{"s":"TW_11","h":8.5,"t":3.89},{"s":"TW_11","h":9,"t":4.01},{"s":"TW_11","h":9.5,"t":4.09},{"s":"TW_11","h":10,"t":4.25},{"s":"TW_11","h":10.5,"t":4.68},{"s":"TW_11","h":11,"t":5.04},{"s":"TW_11","h":11.5,"t":5.52},{"s":"TW_11","h":12,"t":5.87},{"s":"TW_11","h":12.5,"t":6.27},{"s":"TW_11","h":12.8,"t":6.47},{"s":"TW_11","h":13.15,"t":6.59},{"s":"TW_11","h":13.7,"t":5.91},{"s":"TW_11","h":14.3,"t":6.63},{"s":"TW_11","h":14.75,"t":6.45},{"s":"TW_11","h":15.3,"t":6.3},{"s":"TW_11","h":15.8,"t":6.0},{"s":"TW_11","h":16.3,"t":5.85},{"s":"TW_11","h":16.8,"t":5.68},{"s":"TW_11","h":17.3,"t":5.56},{"s":"TW_11","h":17.8,"t":5.38},{"s":"TW_11","h":18.3,"t":5.22},{"s":"TW_11","h":18.8,"t":5.14},{"s":"TW_11","h":19.3,"t":5.08},{"s":"TW_11","h":19.8,"t":5.04},{"s":"TW_11","h":20.3,"t":5.04},{"s":"TW_11","h":20.8,"t":5.12},{"s":"TW_11","h":21.3,"t":5.3},{"s":"TW_11","h":21.8,"t":5.52},{"s":"TW_11","h":22.3,"t":5.64},{"s":"TW_11","h":22.8,"t":5.83},{"s":"TW_11","h":23,"t":5.91},{"s":"TW_11","h":23.5,"t":5.6},{"s":"TW_11","h":24,"t":5.4},{"s":"TW_11","h":24.5,"t":5.2},{"s":"TW_11","h":25,"t":5.24},{"s":"TW_11","h":25.5,"t":5.2},{"s":"TW_11","h":26,"t":4.64},{"s":"TW_11","h":26.5,"t":4.6},{"s":"TW_11","h":27,"t":4.44},{"s":"TW_11","h":27.3,"t":4.29},{"s":"TW_11","h":27.6,"t":4.44},{"s":"TW_11","h":28,"t":4.48},{"s":"TW_11","h":28.5,"t":4.52},{"s":"TW_11","h":28.9,"t":4.25},{"s":"TW_11","h":29.3,"t":3.81},{"s":"TW_11","h":29.5,"t":3.73},{"s":"TW_11","h":29.8,"t":3.93},{"s":"TW_11","h":30.2,"t":4.06},{"s":"TW_11","h":30.6,"t":4.36},{"s":"TW_11","h":31,"t":4.58},{"s":"TW_11","h":31.5,"t":4.76},{"s":"TW_11","h":32,"t":4.88},{"s":"TW_11","h":32.5,"t":4.9},{"s":"TW_11","h":32.6,"t":4.88},{"s":"TW_11","h":32.85,"t":4.66},{"s":"TW_11","h":33,"t":4.72},
{"s":"TW_12","h":3,"t":1.62},{"s":"TW_12","h":3.5,"t":1.9},{"s":"TW_12","h":4,"t":2.25},{"s":"TW_12","h":4.5,"t":2.7},{"s":"TW_12","h":5,"t":3.15},{"s":"TW_12","h":5.4,"t":3.45},{"s":"TW_12","h":5.9,"t":2.82},{"s":"TW_12","h":6.4,"t":2.6},{"s":"TW_12","h":6.8,"t":2.66},{"s":"TW_12","h":7.2,"t":2.9},{"s":"TW_12","h":7.6,"t":3.29},{"s":"TW_12","h":8,"t":3.53},{"s":"TW_12","h":8.5,"t":3.81},{"s":"TW_12","h":9,"t":3.89},{"s":"TW_12","h":9.5,"t":3.89},{"s":"TW_12","h":10,"t":4.05},{"s":"TW_12","h":10.5,"t":4.48},{"s":"TW_12","h":11,"t":4.84},{"s":"TW_12","h":11.5,"t":5.4},{"s":"TW_12","h":12,"t":5.71},{"s":"TW_12","h":12.5,"t":5.99},{"s":"TW_12","h":12.8,"t":6.19},{"s":"TW_12","h":13.15,"t":6.31},{"s":"TW_12","h":13.7,"t":5.75},{"s":"TW_12","h":14.3,"t":6.31},{"s":"TW_12","h":14.75,"t":6.19},{"s":"TW_12","h":15.3,"t":5.99},{"s":"TW_12","h":15.8,"t":5.8},{"s":"TW_12","h":16.3,"t":5.65},{"s":"TW_12","h":16.8,"t":5.55},{"s":"TW_12","h":17.3,"t":5.45},{"s":"TW_12","h":17.8,"t":5.3},{"s":"TW_12","h":18.3,"t":5.18},{"s":"TW_12","h":18.8,"t":5.1},{"s":"TW_12","h":19.3,"t":5.04},{"s":"TW_12","h":19.8,"t":5.02},{"s":"TW_12","h":20.3,"t":5.02},{"s":"TW_12","h":20.8,"t":5.04},{"s":"TW_12","h":21.3,"t":5.16},{"s":"TW_12","h":21.8,"t":5.36},{"s":"TW_12","h":22.3,"t":5.52},{"s":"TW_12","h":22.8,"t":5.7},{"s":"TW_12","h":23,"t":5.79},{"s":"TW_12","h":23.5,"t":5.52},{"s":"TW_12","h":24,"t":5.28},{"s":"TW_12","h":24.5,"t":5.08},{"s":"TW_12","h":25,"t":5.12},{"s":"TW_12","h":25.5,"t":5.08},{"s":"TW_12","h":26,"t":4.56},{"s":"TW_12","h":26.5,"t":4.52},{"s":"TW_12","h":27,"t":4.4},{"s":"TW_12","h":27.3,"t":4.21},{"s":"TW_12","h":27.6,"t":4.4},{"s":"TW_12","h":28,"t":4.44},{"s":"TW_12","h":28.5,"t":4.48},{"s":"TW_12","h":28.9,"t":4.2},{"s":"TW_12","h":29.3,"t":3.77},{"s":"TW_12","h":29.5,"t":3.69},{"s":"TW_12","h":29.8,"t":3.89},{"s":"TW_12","h":30.2,"t":4.0},{"s":"TW_12","h":30.6,"t":4.3},{"s":"TW_12","h":31,"t":4.52},{"s":"TW_12","h":31.5,"t":4.72},{"s":"TW_12","h":32,"t":4.84},{"s":"TW_12","h":32.5,"t":4.86},{"s":"TW_12","h":32.6,"t":4.85},{"s":"TW_12","h":32.85,"t":4.64},{"s":"TW_12","h":33,"t":4.68}
],
"tl": [
{"h":3.0,"t":4.3},{"h":3.1,"t":4.24},{"h":3.25,"t":4.4},{"h":3.5,"t":4.69},{"h":3.75,"t":4.62},{"h":4.0,"t":4.96},{"h":4.43,"t":5.16},{"h":4.7,"t":5.16},{"h":4.92,"t":5.4},{"h":5.32,"t":5.4},{"h":5.58,"t":5.0},{"h":5.85,"t":4.21},{"h":6.0,"t":4.12},{"h":6.3,"t":3.93},{"h":6.55,"t":4.12},{"h":6.7,"t":4.33},{"h":6.79,"t":4.8},{"h":7.0,"t":4.82},{"h":7.37,"t":5.32},{"h":7.72,"t":5.32},{"h":8.0,"t":5.36},{"h":8.57,"t":5.36},{"h":8.75,"t":5.32},{"h":8.97,"t":5.32},{"h":9.15,"t":5.02},{"h":9.3,"t":5.1},{"h":9.5,"t":5.12},{"h":9.65,"t":5.2},{"h":9.86,"t":5.56},{"h":10.12,"t":5.87},{"h":10.3,"t":5.9},{"h":10.48,"t":6.07},{"h":10.65,"t":6.1},{"h":10.83,"t":6.27},{"h":11.0,"t":6.35},{"h":11.28,"t":6.67},{"h":11.46,"t":6.9},{"h":11.9,"t":7.4},{"h":12.05,"t":7.4},{"h":12.35,"t":7.02},{"h":12.45,"t":7.02},{"h":12.7,"t":7.62},{"h":13.06,"t":7.7},{"h":13.3,"t":7.55},{"h":13.64,"t":7.1},{"h":13.8,"t":7.3},{"h":14.0,"t":7.38},{"h":14.26,"t":7.82},{"h":14.5,"t":7.82},{"h":14.7,"t":7.34},{"h":14.9,"t":7.26},{"h":15.2,"t":6.74},{"h":15.47,"t":6.43},{"h":15.6,"t":6.31},{"h":15.75,"t":6.43},{"h":15.9,"t":6.43},{"h":16.1,"t":6.86},{"h":16.3,"t":7.02},{"h":16.44,"t":7.1},{"h":16.62,"t":6.9},{"h":16.9,"t":6.5},{"h":17.07,"t":6.31},{"h":17.35,"t":6.23},{"h":17.64,"t":5.99},{"h":17.87,"t":5.67},{"h":17.95,"t":5.6},{"h":18.5,"t":5.6},{"h":18.6,"t":5.83},{"h":18.94,"t":5.9},{"h":19.05,"t":6.1},{"h":19.2,"t":6.03},{"h":19.35,"t":6.1},{"h":19.5,"t":6.27},{"h":19.65,"t":6.31},{"h":20.0,"t":6.23},{"h":20.18,"t":6.03},{"h":20.45,"t":5.91},{"h":20.6,"t":5.99},{"h":20.75,"t":5.91},{"h":21.0,"t":5.91},{"h":21.25,"t":6.27},{"h":21.35,"t":6.35},{"h":21.5,"t":6.67},{"h":21.7,"t":6.86},{"h":21.9,"t":6.9},{"h":22.14,"t":7.19},{"h":22.25,"t":7.14},{"h":22.85,"t":7.9},{"h":23.0,"t":7.9},{"h":23.1,"t":7.5},{"h":23.3,"t":6.9},{"h":23.8,"t":6.24},{"h":24.0,"t":6.12},{"h":24.15,"t":6.31},{"h":24.3,"t":6.2},{"h":24.5,"t":6.24},{"h":24.7,"t":6.36},{"h":25.15,"t":6.36},{"h":25.34,"t":6.43},{"h":25.56,"t":6.62},{"h":25.7,"t":6.59},{"h":25.85,"t":6.5},{"h":26.05,"t":6.43},{"h":26.2,"t":6.36},{"h":26.4,"t":6.31},{"h":26.7,"t":6.24},{"h":26.9,"t":6.31},{"h":27.0,"t":6.19},{"h":27.2,"t":6.03},{"h":27.35,"t":6.1},{"h":27.6,"t":6.31},{"h":27.9,"t":6.43},{"h":28.45,"t":6.43},{"h":28.6,"t":6.71},{"h":28.9,"t":6.43},{"h":29.1,"t":6.39},{"h":29.35,"t":6.31},{"h":29.45,"t":6.39},{"h":29.55,"t":6.31},{"h":29.8,"t":6.5},{"h":30.15,"t":6.59},{"h":30.6,"t":6.67},{"h":30.8,"t":6.75},{"h":31.04,"t":6.83},{"h":31.2,"t":6.9},{"h":31.6,"t":7.02},{"h":31.75,"t":7.06},{"h":31.9,"t":7.22},{"h":32.1,"t":7.02},{"h":32.35,"t":7.0},{"h":32.6,"t":6.86},{"h":32.8,"t":6.74},{"h":33.0,"t":6.8}
],
"sunrise": [{"h":7.55},{"h":31.63}],
"now": [{"h":27.05}],
"base": [{"t":4.38}],
"method": [{"t":4.24}],
"sander": [{"h":27.05,"t":4.4},{"h":28.06,"t":4.79},{"h":29.06,"t":4.7},{"h":30.06,"t":5.14},{"h":31.06,"t":4.89},{"h":32.06,"t":4.38}],
"conf": [{"h":27.05,"h2":33.1,"lo":3.48,"hi":5.07}]
},
"layer": [
{
 "data": {"name": "conf"},
 "mark": {"type": "rect", "color": "purple", "opacity": 0.2},
 "encoding": {
  "x": {"field": "h", "type": "quantitative", "scale": {"domain": [1.5, 34.5], "nice": false, "zero": false}, "axis": {"values": [5,10,15,20,25,30]}, "title": "UTC time [hours]"},
  "x2": {"field": "h2"},
  "y": {"field": "lo", "type": "quantitative", "scale": {"domain": [1.095, 12.14], "nice": false, "zero": false}, "axis": {"values": [2,4,6,8,10,12]}, "title": "Temperature [ °C]"},
  "y2": {"field": "hi"}
 }
},
{
 "data": {"name": "tw"},
 "mark": {"type": "line", "strokeWidth": 2},
 "encoding": {
  "x": {"field": "h", "type": "quantitative", "scale": {"domain": [1.5, 34.5], "nice": false, "zero": false}, "axis": {"values": [5,10,15,20,25,30]}, "title": "UTC time [hours]"},
  "y": {"field": "t", "type": "quantitative", "scale": {"domain": [1.095, 12.14], "nice": false, "zero": false}, "axis": {"values": [2,4,6,8,10,12]}, "title": "Temperature [ °C]"},
  "color": {
   "field": "s", "type": "nominal",
   "scale": {
    "domain": ["TW_4","TW_5","TW_6","TW_7","TW_8","TW_9","TW_10","TW_11","TW_12","TL","sunrise","Base min","Method min","Sander forecast","95% confidence"],
    "range": ["black","black","black","black","black","black","black","black","black","#1f77b4","#ffff00","#ff0000","#800080","#ff0000","#e6cce6"]
   },
   "legend": {
    "title": null, "orient": "none", "legendX": 6, "legendY": 9, "padding": 5,
    "fillColor": "rgba(255,255,255,0.8)", "strokeColor": "#cccccc", "cornerRadius": 4,
    "labelFont": "DejaVu Sans", "labelFontSize": 13.5, "labelColor": "black", "labelOffset": 20, "labelLimit": 250,
    "symbolSize": 900, "rowPadding": 6, "symbolOffset": 6,
    "symbolType": {"expr": "datum.value === 'Sander forecast' ? 'M-0.27,-0.27L0.27,0.27M0.27,-0.27L-0.27,0.27' : (datum.value === '95% confidence' ? 'M-0.87,-0.27L0.87,-0.27L0.87,0.27L-0.87,0.27Z' : 'stroke')"},
    "symbolFillColor": {"expr": "datum.value === '95% confidence' ? '#e6cce6' : 'transparent'"},
    "symbolStrokeWidth": {"expr": "datum.value === 'Sander forecast' ? 1.5 : 2"}
   }
  }
 }
},
{
 "data": {"name": "tl"},
 "mark": {"type": "line", "strokeWidth": 2, "color": "#1f77b4"},
 "encoding": {
  "x": {"field": "h", "type": "quantitative", "scale": {"domain": [1.5, 34.5], "nice": false, "zero": false}, "axis": {"values": [5,10,15,20,25,30]}, "title": "UTC time [hours]"},
  "y": {"field": "t", "type": "quantitative", "scale": {"domain": [1.095, 12.14], "nice": false, "zero": false}, "axis": {"values": [2,4,6,8,10,12]}, "title": "Temperature [ °C]"}
 }
},
{
 "data": {"name": "sunrise"},
 "mark": {"type": "rule", "color": "#ffff00", "strokeWidth": 2},
 "encoding": {
  "x": {"field": "h", "type": "quantitative", "scale": {"domain": [1.5, 34.5], "nice": false, "zero": false}, "axis": {"values": [5,10,15,20,25,30]}, "title": "UTC time [hours]"}
 }
},
{
 "data": {"name": "now"},
 "mark": {"type": "rule", "color": "gray", "strokeWidth": 2},
 "encoding": {
  "x": {"field": "h", "type": "quantitative", "scale": {"domain": [1.5, 34.5], "nice": false, "zero": false}, "axis": {"values": [5,10,15,20,25,30]}, "title": "UTC time [hours]"}
 }
},
{
 "data": {"name": "base"},
 "mark": {"type": "rule", "color": "#ff0000", "strokeWidth": 2},
 "encoding": {
  "y": {"field": "t", "type": "quantitative", "scale": {"domain": [1.095, 12.14], "nice": false, "zero": false}, "axis": {"values": [2,4,6,8,10,12]}, "title": "Temperature [ °C]"}
 }
},
{
 "data": {"name": "method"},
 "mark": {"type": "rule", "color": "#800080", "strokeWidth": 2},
 "encoding": {
  "y": {"field": "t", "type": "quantitative", "scale": {"domain": [1.095, 12.14], "nice": false, "zero": false}, "axis": {"values": [2,4,6,8,10,12]}, "title": "Temperature [ °C]"}
 }
},
{
 "data": {"name": "sander"},
 "mark": {"type": "point", "shape": "M-1,-1L1,1M1,-1L-1,1", "size": 64, "filled": false, "color": "#ff0000", "strokeWidth": 1.5, "opacity": 1},
 "encoding": {
  "x": {"field": "h", "type": "quantitative", "scale": {"domain": [1.5, 34.5], "nice": false, "zero": false}, "axis": {"values": [5,10,15,20,25,30]}, "title": "UTC time [hours]"},
  "y": {"field": "t", "type": "quantitative", "scale": {"domain": [1.095, 12.14], "nice": false, "zero": false}, "axis": {"values": [2,4,6,8,10,12]}, "title": "Temperature [ °C]"}
 }
}
]
}
